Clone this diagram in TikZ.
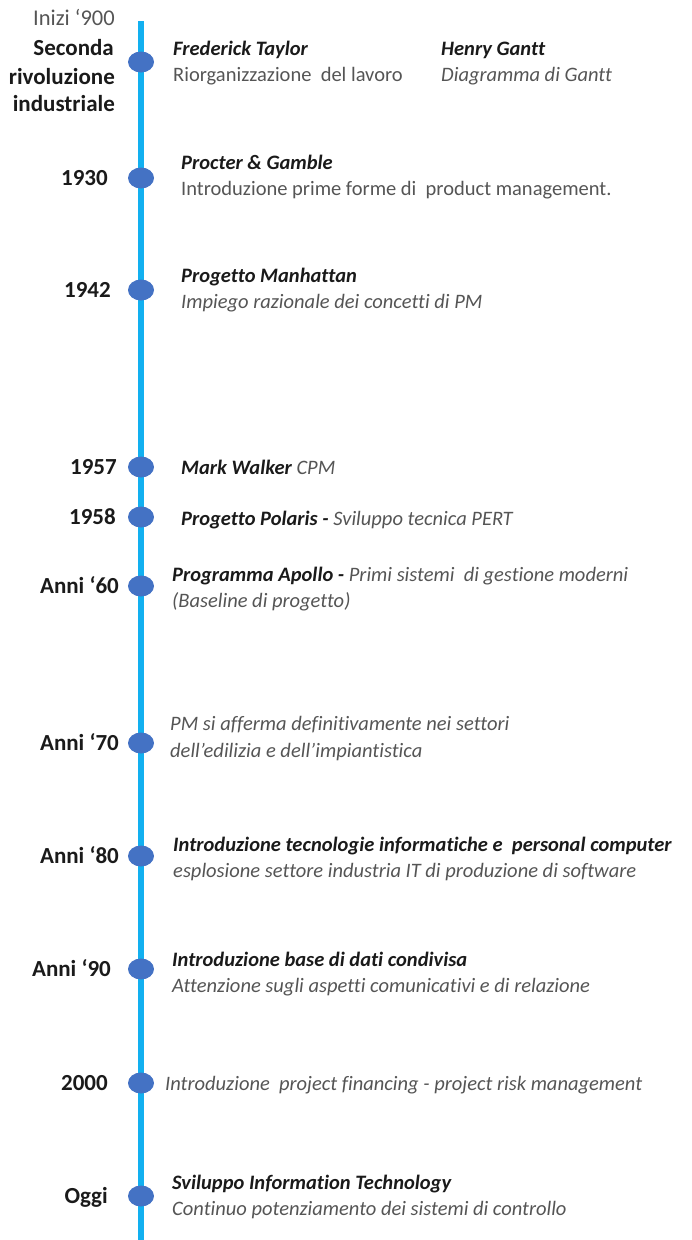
\documentclass[tikz,border=0pt]{standalone}
\usepackage{fontspec}
\usetikzlibrary{shapes.geometric}
\setmainfont[Ligatures=CommonOff]{Carlito}
\definecolor{axisblue}{HTML}{12B0F0}
\definecolor{dotblue}{HTML}{4472C4}
\definecolor{txtgray}{HTML}{555555}
\definecolor{txtdark}{HTML}{1A1A1A}
\begin{document}
\begin{tikzpicture}[x=1pt,y=-1pt,
  dot/.style={ellipse,fill=dotblue,minimum width=26pt,minimum height=21pt,inner sep=0pt},
  era/.style={anchor=base east,inner sep=0pt,font=\fontsize{23}{28}\selectfont\bfseries,text=txtdark},
  head/.style={anchor=base west,inner sep=0pt,font=\fontsize{20.5}{25}\selectfont\bfseries\itshape,text=txtdark},
  desc/.style={anchor=base west,inner sep=0pt,font=\fontsize{20.5}{25}\selectfont\itshape,text=txtgray},
  plain/.style={anchor=base west,inner sep=0pt,font=\fontsize{20.5}{25}\selectfont,text=txtgray}]
\useasboundingbox (0,0) rectangle (691,1240);
% timeline axis
\coordinate (top) at (141,21);
\coordinate (bottom) at (141,1240);
\draw[axisblue,line width=5.5pt] (top) -- (bottom);
% milestones
\foreach \n/\y in {d1/62,d2/178,d3/290,d4/467,d5/517,d6/586,d7/743,d8/856,d9/969,d10/1083,d11/1196}
  \node[dot] (\n) at (141,\y) {};
% era labels
\node[era,font=\fontsize{22.5}{28}\selectfont,text=txtgray] (e0) at (115,25) {Inizi ‘900};
\node[era] (e1a) at (114,55) {Seconda};
\node[era] (e1b) at (115,84) {rivoluzione};
\node[era] (e1c) at (115,111) {industriale};
\node[era] (e2) at (108,185) {1930};
\node[era] (e3) at (111,297) {1942};
\node[era] (e4) at (117,474) {1957};
\node[era] (e5) at (116,524) {1958};
\node[era] (e6) at (119,593) {Anni ‘60};
\node[era] (e7) at (119,750) {Anni ‘70};
\node[era] (e8) at (119,863) {Anni ‘80};
\node[era] (e9) at (111,976) {Anni ‘90};
\node[era] (e10) at (108,1090) {2000};
\node[era] (e11) at (108,1203) {Oggi};
% events
\node[head] (t1) at (173,55) {Frederick Taylor};
\node[plain] (t1d) at (173,81) {Riorganizzazione\ \ del lavoro};
\node[head] (g1) at (441,55) {Henry Gantt};
\node[desc] (g1d) at (441,81) {Diagramma di Gantt};
\node[head] (p2) at (181,169) {Procter \& Gamble};
\node[plain] (p2d) at (181,195) {Introduzione prime forme di\ \ product management.};
\node[head] (p3) at (181,282) {Progetto Manhattan};
\node[desc] (p3d) at (181,308) {Impiego razionale dei concetti di PM};
\node[head] (p4) at (181,474) {Mark Walker \textmd{\color{txtgray}CPM}};
\node[head] (p5) at (181,525) {Progetto Polaris - \textmd{\color{txtgray}Sviluppo tecnica PERT}};
\node[head] (p6) at (172,581) {Programma Apollo - \textmd{\color{txtgray}Primi sistemi\ \ di gestione moderni}};
\node[desc] (p6d) at (172,607) {(Baseline di progetto)};
\node[desc] (p7) at (170,730) {PM si afferma definitivamente nei settori};
\node[desc] (p7d) at (170,757) {dell’edilizia e dell’impiantistica};
\node[head] (p8) at (173,851) {Introduzione tecnologie informatiche e\ \ personal computer};
\node[desc] (p8d) at (173,877) {esplosione settore industria IT di produzione di software};
\node[head] (p9) at (172,966) {Introduzione base di dati condivisa};
\node[desc] (p9d) at (172,992) {Attenzione sugli aspetti comunicativi e di relazione};
\node[desc] (p10) at (165,1090) {Introduzione\ \ project financing - project risk management};
\node[head] (p11) at (172,1189) {Sviluppo Information Technology};
\node[desc] (p11d) at (172,1215) {Continuo potenziamento dei sistemi di controllo};
\end{tikzpicture}
\end{document}
